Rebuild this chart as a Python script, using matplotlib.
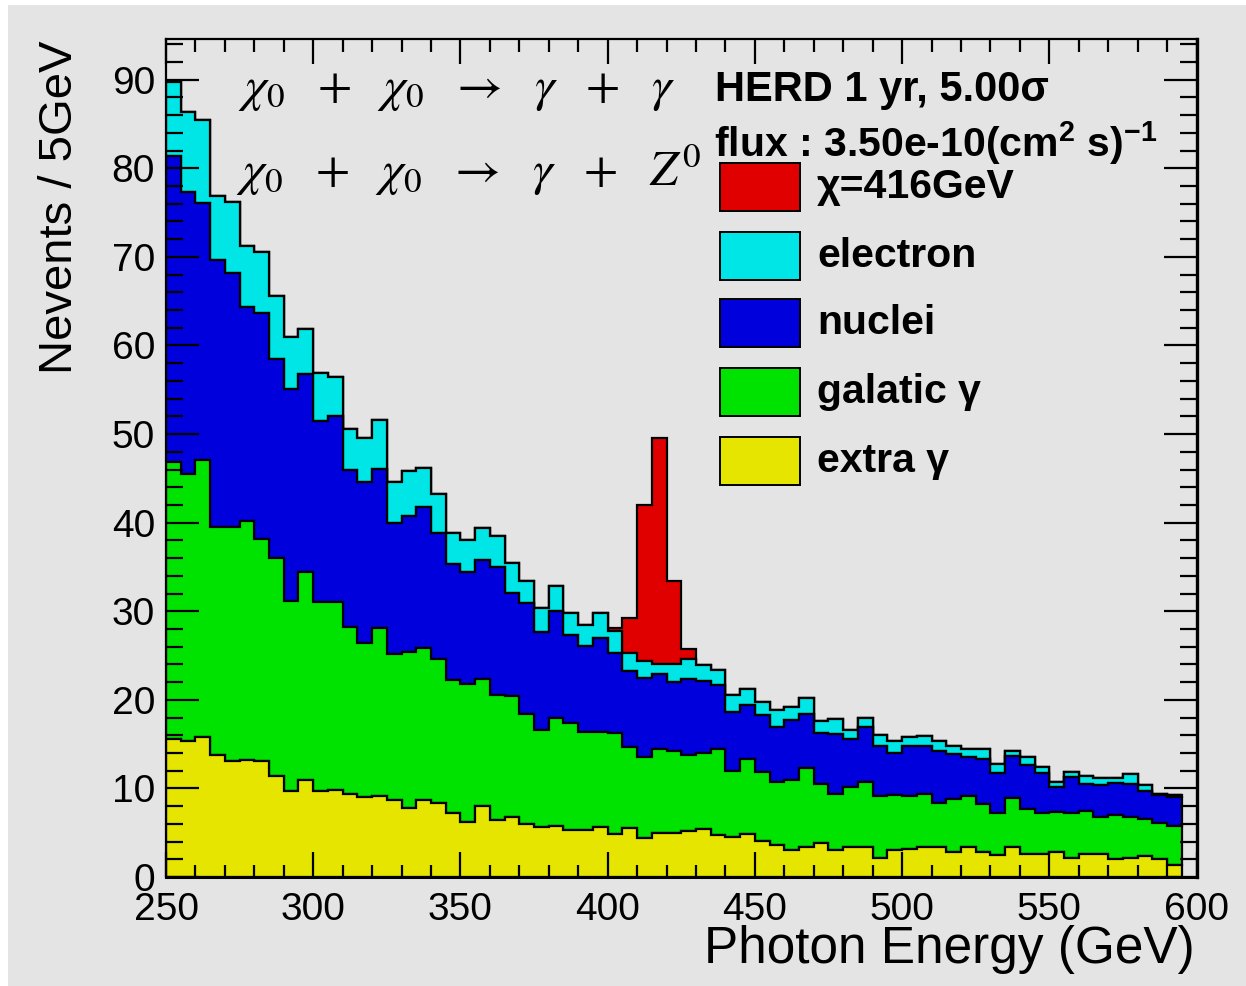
import numpy as np
import matplotlib
matplotlib.use("Agg")
import matplotlib.pyplot as plt
from matplotlib.patches import Rectangle
from matplotlib.ticker import MultipleLocator

# ---------------------------------------------------------------- data
# 5 GeV bins from 250 to 595 GeV
bin_edges = np.arange(250, 600, 5)

extra_gamma = [15.6, 15.3, 15.8, 13.8, 13.1, 13.2, 13.1, 11.4, 9.7, 11.0,
               9.7, 9.8, 9.4, 9.0, 9.2, 8.7, 7.8, 8.7, 8.4, 7.2,
               6.2, 8.0, 6.4, 6.8, 6.0, 5.7, 5.8, 5.3, 5.3, 5.6,
               4.8, 5.5, 4.4, 5.0, 5.0, 5.2, 5.4, 4.7, 4.5, 4.8,
               4.1, 3.6, 3.0, 3.4, 3.8, 3.0, 3.4, 3.4, 2.2, 3.1,
               3.2, 3.4, 3.4, 2.8, 3.4, 2.8, 2.5, 3.4, 2.6, 2.6,
               2.8, 2.2, 2.6, 2.6, 2.0, 2.2, 2.4, 2.0, 1.3]

galactic_gamma = [31.3, 30.2, 31.3, 25.7, 26.4, 27.0, 25.1, 24.6, 21.5, 23.4,
                  21.3, 21.2, 18.8, 17.4, 18.9, 16.5, 17.6, 17.1, 16.2, 15.0,
                  15.6, 14.3, 14.2, 13.6, 12.4, 10.9, 12.1, 12.1, 11.1, 10.8,
                  11.5, 9.2, 9.2, 9.5, 9.2, 8.6, 8.6, 9.8, 7.5, 8.5,
                  7.8, 7.1, 7.9, 8.9, 6.7, 6.4, 6.8, 7.3, 7.0, 6.2,
                  6.0, 6.0, 5.0, 6.0, 5.7, 5.4, 4.7, 5.5, 5.1, 4.6,
                  4.5, 5.0, 4.9, 4.2, 5.0, 4.6, 4.2, 4.1, 4.5]

nuclei = [34.5, 31.8, 29.0, 30.2, 28.7, 24.2, 25.5, 22.5, 23.9, 22.4,
          20.5, 21.0, 17.7, 18.2, 18.0, 14.8, 15.4, 16.0, 14.2, 13.1,
          12.6, 13.5, 14.4, 11.7, 12.5, 11.1, 12.1, 9.9, 9.7, 10.6,
          9.0, 8.6, 8.9, 8.4, 7.8, 8.6, 8.1, 7.2, 6.6, 6.1,
          6.4, 6.2, 6.8, 6.1, 5.7, 6.7, 5.4, 6.2, 5.6, 4.7,
          5.6, 5.4, 5.8, 5.1, 4.4, 5.1, 4.5, 4.8, 4.9, 4.5,
          2.9, 4.1, 3.0, 3.6, 3.6, 3.7, 3.1, 3.2, 3.2]

electron = [8.4, 9.1, 9.3, 7.2, 8.0, 6.8, 6.9, 7.1, 5.9, 5.1,
            5.4, 4.4, 4.7, 5.0, 5.5, 4.6, 5.0, 4.4, 4.4, 3.5,
            3.6, 3.6, 3.5, 3.3, 2.5, 2.7, 2.8, 2.5, 2.3, 2.8,
            2.5, 2.0, 1.9, 1.2, 2.0, 2.2, 1.8, 1.7, 1.9, 1.8,
            1.5, 1.9, 1.5, 1.8, 1.4, 1.7, 1.0, 1.1, 1.2, 1.4,
            1.0, 1.1, 1.2, 0.9, 0.9, 1.1, 1.0, 0.5, 1.0, 0.7,
            0.5, 0.5, 0.9, 0.8, 0.6, 1.1, 0.7, 0.1, 0.3]

signal = [0.0] * 30 + [0.3, 3.9, 17.6, 25.5, 9.4, 1.1] + [0.0] * 33

# stacking order, bottom to top
stack_labels = ["extra \u03b3", "galatic \u03b3", "nuclei", "electron", "\u03c7=416GeV"]
stack_colors = ["#e5e500", "#00e300", "#0000dc", "#00e5e5", "#e00000"]

x_ticks = [250, 300, 350, 400, 450, 500, 550, 600]
y_ticks = [0, 10, 20, 30, 40, 50, 60, 70, 80, 90]

# ---------------------------------------------------------------- style
W, H, DPI = 1246, 986, 100
BG = "#e4e4e4"
plt.rcParams["font.family"] = ["Liberation Sans", "DejaVu Sans"]
plt.rcParams["mathtext.fontset"] = "custom"
plt.rcParams["mathtext.rm"] = "Liberation Sans:bold"
plt.rcParams["mathtext.it"] = "Liberation Sans:bold"
plt.rcParams["mathtext.bf"] = "Liberation Sans:bold"


def fx(px):
    return px / W


def fy(py):
    return 1 - py / H


fig = plt.figure(figsize=(W / DPI, H / DPI), dpi=DPI, facecolor=BG)
ax = fig.add_axes([fx(166), fy(877), fx(1196.5) - fx(166), fy(39) - fy(877)])
ax.set_facecolor(BG)

centers = 0.5 * (bin_edges[:-1] + bin_edges[1:])
layers = [extra_gamma, galactic_gamma, nuclei, electron, signal]
ax.hist([centers] * len(layers), bins=bin_edges, weights=layers,
        stacked=True, histtype="stepfilled", color=stack_colors,
        edgecolor="black", linewidth=1.6)

ax.set_xlim(250, 600)
ax.set_ylim(0, 94.6)
ax.set_xticks(x_ticks)
ax.set_yticks(y_ticks)
ax.xaxis.set_minor_locator(MultipleLocator(10))
ax.yaxis.set_minor_locator(MultipleLocator(2))
ax.tick_params(which="both", direction="in", top=True, right=True,
               width=1.6, color="black", labelsize=28)
ax.tick_params(axis="x", which="major", length=18, pad=10.5)
ax.tick_params(axis="x", which="minor", length=9)
ax.tick_params(axis="y", which="major", length=24, pad=8)
ax.tick_params(axis="y", which="minor", length=12.5)
for side, lw in (("left", 1.6), ("top", 1.6), ("bottom", 2.2), ("right", 2.4)):
    ax.spines[side].set_linewidth(lw)

# axis titles
fig.text(fx(60), fy(40), "Nevents / 5GeV", rotation=90, ha="center",
         va="top", fontsize=34)
fig.text(fx(1195), fy(963), "Photon Energy (GeV)", ha="right",
         va="baseline", fontsize=37)

# annihilation channels
fig.text(fx(238), fy(101),
         r"$\chi_0\ \ +\ \ \chi_0\ \ \rightarrow\ \ \gamma\ \ +\ \ \gamma$",
         fontsize=36, math_fontfamily="stix", ha="left", va="baseline")
fig.text(fx(236), fy(186),
         r"$\chi_0\ \ +\ \ \chi_0\ \ \rightarrow\ \ \gamma\ \ +\ \ Z^0$",
         fontsize=36, math_fontfamily="stix", ha="left", va="baseline")

# run info
fig.text(fx(715), fy(101), "HERD 1 yr, 5.00\u03c3", fontsize=30,
         fontweight="bold", ha="left", va="baseline")
fig.text(fx(714), fy(157), r"flux : 3.50e-10(cm$^{2}$ s)$^{-1}$",
         fontsize=29.5, fontweight="bold", ha="left", va="baseline")

# legend, top entry first
box_tops = [163, 232, 299, 368, 437]
for top, label, color in zip(box_tops, stack_labels[::-1], stack_colors[::-1]):
    fig.patches.append(Rectangle((fx(720), fy(top + 48)), fx(800) - fx(720),
                                 fy(top) - fy(top + 48), transform=fig.transFigure,
                                 facecolor=color, edgecolor="black", linewidth=1.4))
    fig.text(fx(817), fy(top + 24), label, fontsize=29.5, fontweight="bold",
             ha="left", va="center")

# white margin along the top and left edges
fig.patches.append(Rectangle((0, fy(5)), 1, 1 - fy(5), transform=fig.transFigure,
                             facecolor="white", edgecolor="none"))
fig.patches.append(Rectangle((0, 0), fx(8), 1, transform=fig.transFigure,
                             facecolor="white", edgecolor="none"))

fig.savefig("out.png", dpi=DPI, facecolor=BG)
